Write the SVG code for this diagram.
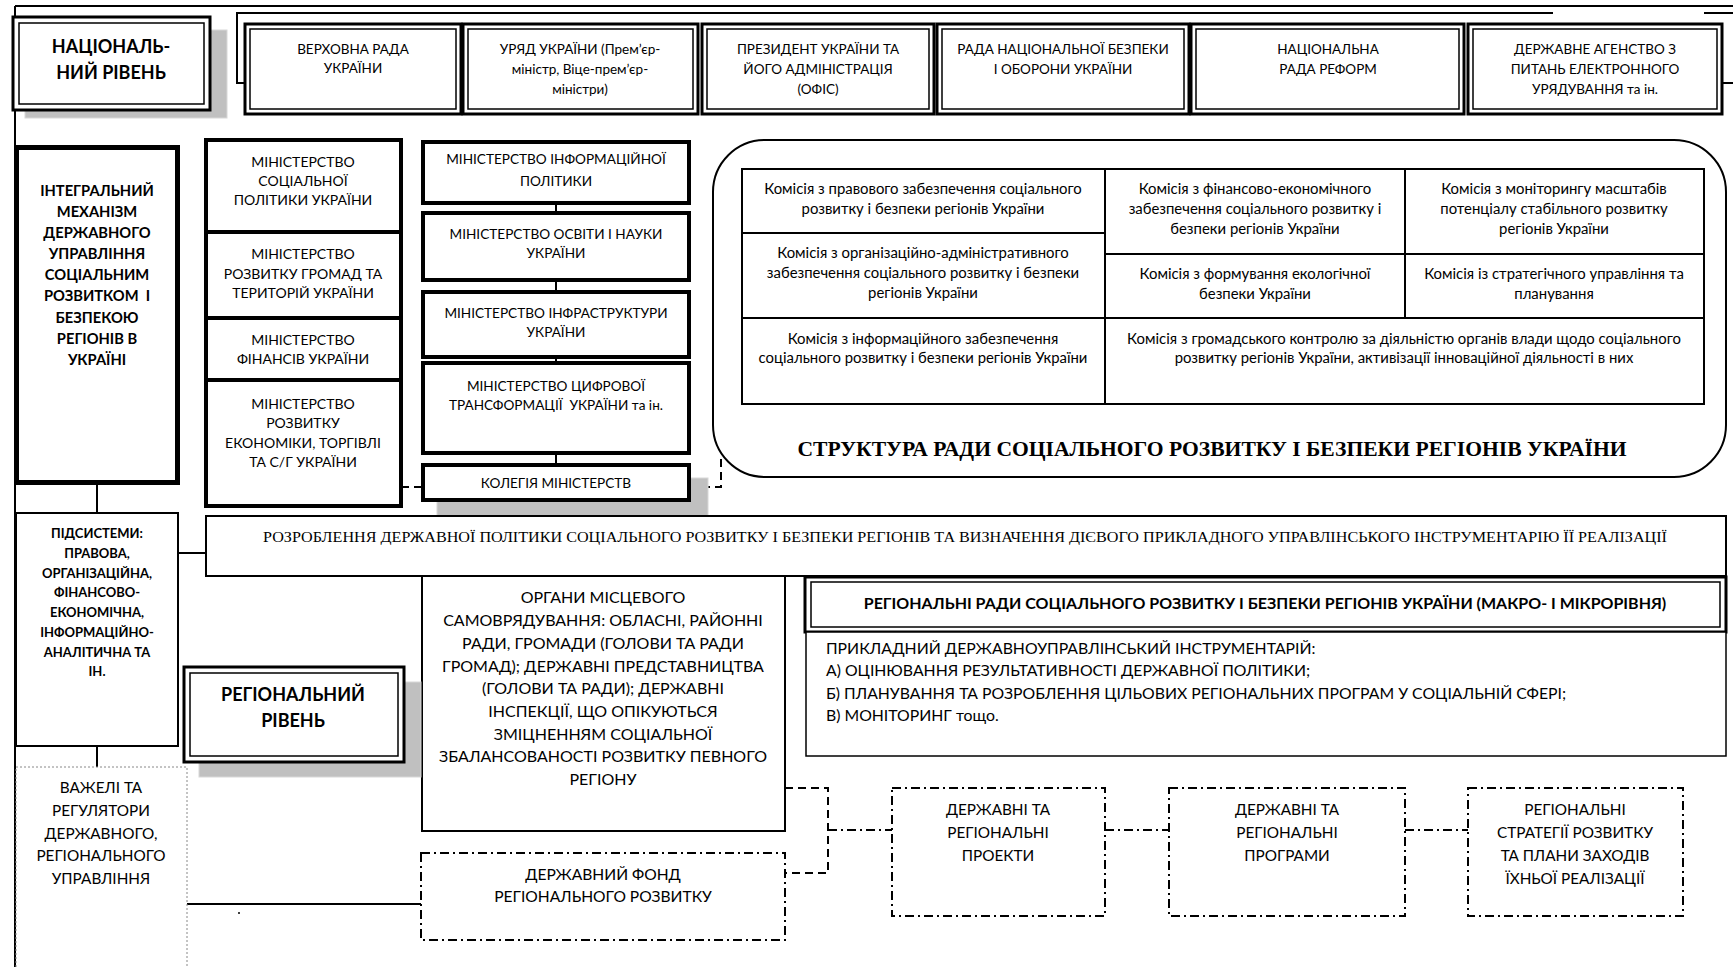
<svg xmlns="http://www.w3.org/2000/svg" width="1733" height="967" viewBox="0 0 1733 967">
<style>
.bx{fill:#fff;stroke:#000;stroke-width:2}
.th{fill:#fff;stroke:#000;stroke-width:4}
.in{fill:none;stroke:#000;stroke-width:1.5}
.sh{fill:#c0c0c0;stroke:#d8d8d8;stroke-width:1}
.dd{fill:#fff;stroke:#000;stroke-width:2;stroke-dasharray:9 4 2 4}
.ln{fill:none;stroke:#000;stroke-width:2}
.ds{fill:none;stroke:#000;stroke-width:2;stroke-dasharray:8 5}
.dl{fill:none;stroke:#000;stroke-width:2;stroke-dasharray:9 4 2 4}
text{font-family:Lato,"Noto Sans",sans-serif;fill:#000;text-anchor:middle}
.f13{font-size:13.5px}
.f14{font-size:14px}
.fm{font-size:13.6px}
.fc{font-size:14.9px}
.f15{font-size:15.3px}
.f16{font-size:16px}
.b{font-weight:bold}
.sr{font-family:"Liberation Serif",serif}
.l{text-anchor:start}
</style>

<g id="connectors">
<path class="ln" d="M15 6 H1733"/>
<path class="ln" d="M15 6 V967"/>
<path class="ln" d="M245 83 H237 V13 H1553"/>
<path class="ln" d="M1704 13 H1733"/>
<path class="ln" d="M1722 83 H1733"/>
<path class="ln" d="M97 485 V513"/>
<path class="ln" d="M178 553 H206"/>
<path class="ln" d="M97 746 V767"/>
<path class="ln" d="M187 904 H421"/>
<path class="ln" d="M556 203 V213 M556 280 V292 M556 357 V363 M556 453 V465"/>
<path class="ds" d="M401 487 H423"/>
<path class="ds" d="M689 487 H721 V454"/>
<path class="ds" d="M785 788 H828 V873 H785"/>
<path class="dl" d="M828 830 H892"/>
<path class="dl" d="M1105 830 H1169"/>
<path class="dl" d="M1405 830 H1468"/>
<circle cx="304" cy="377" r="1"/>
<circle cx="239" cy="913" r="1"/>
</g>

<g id="national-level">
<rect class="sh" x="25" y="30" width="202" height="88"/>
<rect x="13" y="17" width="197" height="93" fill="#fff" stroke="#000" stroke-width="3"/>
<rect class="in" x="19" y="23" width="185" height="81"/>
<text class="b" font-size="18" x="111" y="53">НАЦІОНАЛЬ-</text>
<text class="b" font-size="18" x="111" y="79">НИЙ РІВЕНЬ</text>
</g>

<g id="verkhovna-rada">
<rect x="245" y="24" width="216" height="90" fill="#fff" stroke="#000" stroke-width="3"/>
<rect class="in" x="250" y="29" width="206" height="80"/>
<text class="f13" x="353" y="54">ВЕРХОВНА РАДА</text>
<text class="f13" x="353" y="73">УКРАЇНИ</text>
</g>
<g id="uriad">
<rect x="463" y="24" width="235" height="90" fill="#fff" stroke="#000" stroke-width="3"/>
<rect class="in" x="468" y="29" width="225" height="80"/>
<text class="f13" x="580" y="54">УРЯД УКРАЇНИ (Прем’єр-</text>
<text class="f13" x="580" y="74">міністр, Віце-прем’єр-</text>
<text class="f13" x="580" y="94">міністри)</text>
</g>
<g id="president">
<rect x="702" y="24" width="232" height="90" fill="#fff" stroke="#000" stroke-width="3"/>
<rect class="in" x="707" y="29" width="222" height="80"/>
<text class="f13" x="818" y="54">ПРЕЗИДЕНТ УКРАЇНИ ТА</text>
<text class="f13" x="818" y="74">ЙОГО АДМІНІСТРАЦІЯ</text>
<text class="f13" x="818" y="94">(ОФІС)</text>
</g>
<g id="rnbo">
<rect x="937" y="24" width="252" height="90" fill="#fff" stroke="#000" stroke-width="3"/>
<rect class="in" x="942" y="29" width="242" height="80"/>
<text class="f13" x="1063" y="54">РАДА НАЦІОНАЛЬНОЇ БЕЗПЕКИ</text>
<text class="f13" x="1063" y="74">І ОБОРОНИ УКРАЇНИ</text>
</g>
<g id="rada-reform">
<rect x="1191" y="24" width="273" height="90" fill="#fff" stroke="#000" stroke-width="3"/>
<rect class="in" x="1196" y="29" width="263" height="80"/>
<text class="f13" x="1328" y="54">НАЦІОНАЛЬНА</text>
<text class="f13" x="1328" y="74">РАДА РЕФОРМ</text>
</g>
<g id="e-gov">
<rect x="1468" y="24" width="254" height="90" fill="#fff" stroke="#000" stroke-width="3"/>
<rect class="in" x="1473" y="29" width="244" height="80"/>
<text class="f13" x="1595" y="54">ДЕРЖАВНЕ АГЕНСТВО З</text>
<text class="f13" x="1595" y="74">ПИТАНЬ ЕЛЕКТРОННОГО</text>
<text class="f13" x="1595" y="94">УРЯДУВАННЯ та ін.</text>
</g>

<g id="integral">
<rect x="16.5" y="147.5" width="161" height="335" fill="#fff" stroke="#000" stroke-width="5"/>
<text class="b" font-size="14.7" x="97" y="196">ІНТЕГРАЛЬНИЙ</text>
<text class="b" font-size="14.7" x="97" y="217">МЕХАНІЗМ</text>
<text class="b" font-size="14.7" x="97" y="238">ДЕРЖАВНОГО</text>
<text class="b" font-size="14.7" x="97" y="259">УПРАВЛІННЯ</text>
<text class="b" font-size="14.7" x="97" y="280">СОЦІАЛЬНИМ</text>
<text class="b" font-size="14.7" x="97" y="301" xml:space="preserve">РОЗВИТКОМ  І</text>
<text class="b" font-size="14.7" x="97" y="323">БЕЗПЕКОЮ</text>
<text class="b" font-size="14.7" x="97" y="344">РЕГІОНІВ В</text>
<text class="b" font-size="14.7" x="97" y="365">УКРАЇНІ</text>
</g>

<g id="subsystems">
<rect class="bx" x="16" y="513" width="162" height="233"/>
<text class="b" font-size="13" x="97" y="538">ПІДСИСТЕМИ:</text>
<text class="b" font-size="13" x="97" y="558">ПРАВОВА,</text>
<text class="b" font-size="13" x="97" y="578">ОРГАНІЗАЦІЙНА,</text>
<text class="b" font-size="13" x="97" y="597">ФІНАНСОВО-</text>
<text class="b" font-size="13" x="97" y="617">ЕКОНОМІЧНА,</text>
<text class="b" font-size="13" x="97" y="637">ІНФОРМАЦІЙНО-</text>
<text class="b" font-size="13" x="97" y="657">АНАЛІТИЧНА ТА</text>
<text class="b" font-size="13" x="97" y="676">ІН.</text>
</g>

<g id="levers">
<rect x="16" y="767" width="171" height="215" fill="#fff" stroke="#888" stroke-width="1" stroke-dasharray="2 2"/>
<text class="f15" x="101" y="793">ВАЖЕЛІ ТА</text>
<text class="f15" x="101" y="816">РЕГУЛЯТОРИ</text>
<text class="f15" x="101" y="839">ДЕРЖАВНОГО,</text>
<text class="f15" x="101" y="861">РЕГІОНАЛЬНОГО</text>
<text class="f15" x="101" y="884">УПРАВЛІННЯ</text>
</g>

<g id="min-social">
<rect class="th" x="206" y="140" width="195" height="92"/>
<text class="f14" x="303" y="167">МІНІСТЕРСТВО</text>
<text class="f14" x="303" y="186">СОЦІАЛЬНОЇ</text>
<text class="f14" x="303" y="205">ПОЛІТИКИ УКРАЇНИ</text>
</g>
<g id="min-communities">
<rect class="th" x="206" y="232" width="195" height="86"/>
<text class="f14" x="303" y="259">МІНІСТЕРСТВО</text>
<text class="f14" x="303" y="279">РОЗВИТКУ ГРОМАД ТА</text>
<text class="f14" x="303" y="298">ТЕРИТОРІЙ УКРАЇНИ</text>
</g>
<g id="min-finance">
<rect class="th" x="206" y="318" width="195" height="62"/>
<text class="f14" x="303" y="345">МІНІСТЕРСТВО</text>
<text class="f14" x="303" y="364">ФІНАНСІВ УКРАЇНИ</text>
</g>
<g id="min-economy">
<rect class="th" x="206" y="380" width="195" height="126"/>
<text class="f14" x="303" y="409">МІНІСТЕРСТВО</text>
<text class="f14" x="303" y="428">РОЗВИТКУ</text>
<text class="f14" x="303" y="448">ЕКОНОМІКИ, ТОРГІВЛІ</text>
<text class="f14" x="303" y="467">ТА С/Г УКРАЇНИ</text>
</g>

<g id="min-info">
<rect class="th" x="423" y="142" width="266" height="61"/>
<text class="fm" x="556" y="164">МІНІСТЕРСТВО ІНФОРМАЦІЙНОЇ</text>
<text class="fm" x="556" y="186">ПОЛІТИКИ</text>
</g>
<g id="min-education">
<rect class="th" x="423" y="213" width="266" height="67"/>
<text class="fm" x="556" y="239">МІНІСТЕРСТВО ОСВІТИ І НАУКИ</text>
<text class="fm" x="556" y="258">УКРАЇНИ</text>
</g>
<g id="min-infra">
<rect class="th" x="423" y="292" width="266" height="65"/>
<text class="fm" x="556" y="318">МІНІСТЕРСТВО ІНФРАСТРУКТУРИ</text>
<text class="fm" x="556" y="337">УКРАЇНИ</text>
</g>
<g id="min-digital">
<rect class="th" x="423" y="363" width="266" height="90"/>
<text class="fm" x="556" y="391">МІНІСТЕРСТВО ЦИФРОВОЇ</text>
<text class="fm" x="556" y="410" xml:space="preserve">ТРАНСФОРМАЦІЇ  УКРАЇНИ та ін.</text>
</g>
<g id="collegium">
<rect class="sh" x="437" y="478" width="271" height="40"/>
<rect class="th" x="423" y="465" width="266" height="35"/>
<text class="fm" x="556" y="488">КОЛЕГІЯ МІНІСТЕРСТВ</text>
</g>

<g id="council-structure">
<rect x="713" y="140" width="1013" height="337" rx="52" ry="52" fill="#fff" stroke="#000" stroke-width="2"/>
<rect class="bx" x="742" y="169" width="962" height="235"/>
<path class="ln" d="M1105 169 V404 M1405 169 V318 M742 233 H1105 M742 318 H1704 M1105 254 H1704"/>
<text class="fc" x="923" y="194">Комісія з правового забезпечення соціального</text>
<text class="fc" x="923" y="214">розвитку і безпеки регіонів України</text>
<text class="fc" x="923" y="258">Комісія з організаційно-адміністративного</text>
<text class="fc" x="923" y="278">забезпечення соціального розвитку і безпеки</text>
<text class="fc" x="923" y="298">регіонів України</text>
<text class="fc" x="923" y="344">Комісія з інформаційного забезпечення</text>
<text class="fc" x="923" y="363">соціального розвитку і безпеки регіонів України</text>
<text class="fc" x="1255" y="194">Комісія з фінансово-економічного</text>
<text class="fc" x="1255" y="214">забезпечення соціального розвитку і</text>
<text class="fc" x="1255" y="234">безпеки регіонів України</text>
<text class="fc" x="1255" y="279">Комісія з формування екологічної</text>
<text class="fc" x="1255" y="299">безпеки України</text>
<text class="fc" x="1554" y="194">Комісія з моніторингу масштабів</text>
<text class="fc" x="1554" y="214">потенціалу стабільного розвитку</text>
<text class="fc" x="1554" y="234">регіонів України</text>
<text class="fc" x="1554" y="279">Комісія із стратегічного управління та</text>
<text class="fc" x="1554" y="299">планування</text>
<text class="fc" x="1404" y="344">Комісія з громадського контролю за діяльністю органів влади щодо соціального</text>
<text class="fc" x="1404" y="363">розвитку регіонів України, активізації інноваційної діяльності в них</text>
<text class="sr b" font-size="21.6" x="1212" y="456">СТРУКТУРА РАДИ СОЦІАЛЬНОГО РОЗВИТКУ І БЕЗПЕКИ РЕГІОНІВ УКРАЇНИ</text>
</g>

<g id="policy-development">
<rect class="bx" x="206" y="516" width="1520" height="60"/>
<text class="sr" font-size="15.5" x="965" y="542" textLength="1404" lengthAdjust="spacingAndGlyphs">РОЗРОБЛЕННЯ ДЕРЖАВНОЇ ПОЛІТИКИ СОЦІАЛЬНОГО РОЗВИТКУ І БЕЗПЕКИ РЕГІОНІВ ТА ВИЗНАЧЕННЯ ДІЄВОГО ПРИКЛАДНОГО УПРАВЛІНСЬКОГО ІНСТРУМЕНТАРІЮ ЇЇ РЕАЛІЗАЦІЇ</text>
</g>

<g id="local-government">
<rect class="bx" x="422" y="576" width="363" height="255"/>
<text class="f16" x="603" y="603">ОРГАНИ МІСЦЕВОГО</text>
<text class="f16" x="603" y="626">САМОВРЯДУВАННЯ: ОБЛАСНІ, РАЙОННІ</text>
<text class="f16" x="603" y="649">РАДИ, ГРОМАДИ (ГОЛОВИ ТА РАДИ</text>
<text class="f16" x="603" y="672">ГРОМАД); ДЕРЖАВНІ ПРЕДСТАВНИЦТВА</text>
<text class="f16" x="603" y="694">(ГОЛОВИ ТА РАДИ); ДЕРЖАВНІ</text>
<text class="f16" x="603" y="717">ІНСПЕКЦІЇ, ЩО ОПІКУЮТЬСЯ</text>
<text class="f16" x="603" y="740">ЗМІЦНЕННЯМ СОЦІАЛЬНОЇ</text>
<text class="f16" x="603" y="762">ЗБАЛАНСОВАНОСТІ РОЗВИТКУ ПЕВНОГО</text>
<text class="f16" x="603" y="785">РЕГІОНУ</text>
</g>

<g id="regional-fund">
<rect class="dd" x="421" y="853" width="364" height="87"/>
<text font-size="15.6" x="603" y="880">ДЕРЖАВНИЙ ФОНД</text>
<text font-size="15.6" x="603" y="902">РЕГІОНАЛЬНОГО РОЗВИТКУ</text>
</g>

<g id="regional-level">
<rect class="sh" x="199" y="682" width="222" height="95"/>
<rect x="184" y="667" width="220" height="95" fill="#fff" stroke="#000" stroke-width="3"/>
<rect class="in" x="190" y="673" width="208" height="83"/>
<text class="b" font-size="18" x="293" y="701">РЕГІОНАЛЬНИЙ</text>
<text class="b" font-size="18" x="293" y="727">РІВЕНЬ</text>
</g>

<g id="regional-councils">
<rect x="805" y="577" width="921" height="55" fill="#fff" stroke="#000" stroke-width="3"/>
<rect class="in" x="811" y="582" width="909" height="45"/>
<text class="b" font-size="16" x="1265" y="609">РЕГІОНАЛЬНІ РАДИ СОЦІАЛЬНОГО РОЗВИТКУ І БЕЗПЕКИ РЕГІОНІВ УКРАЇНИ (МАКРО- І МІКРОРІВНЯ)</text>
</g>

<g id="applied-tools">
<rect x="806" y="632" width="920" height="124" fill="#fff" stroke="#000" stroke-width="1.5"/>
<text class="l" font-size="15.8" x="826" y="654">ПРИКЛАДНИЙ ДЕРЖАВНОУПРАВЛІНСЬКИЙ ІНСТРУМЕНТАРІЙ:</text>
<text class="l" font-size="15.8" x="826" y="676">А) ОЦІНЮВАННЯ РЕЗУЛЬТАТИВНОСТІ ДЕРЖАВНОЇ ПОЛІТИКИ;</text>
<text class="l" font-size="15.8" x="826" y="699">Б) ПЛАНУВАННЯ ТА РОЗРОБЛЕННЯ ЦІЛЬОВИХ РЕГІОНАЛЬНИХ ПРОГРАМ У СОЦІАЛЬНІЙ СФЕРІ;</text>
<text class="l" font-size="15.8" x="826" y="721">В) МОНІТОРИНГ тощо.</text>
</g>

<g id="projects">
<rect class="dd" x="892" y="788" width="213" height="128"/>
<text class="f15" x="998" y="815">ДЕРЖАВНІ ТА</text>
<text class="f15" x="998" y="838">РЕГІОНАЛЬНІ</text>
<text class="f15" x="998" y="861">ПРОЕКТИ</text>
</g>
<g id="programs">
<rect class="dd" x="1169" y="788" width="236" height="128"/>
<text class="f15" x="1287" y="815">ДЕРЖАВНІ ТА</text>
<text class="f15" x="1287" y="838">РЕГІОНАЛЬНІ</text>
<text class="f15" x="1287" y="861">ПРОГРАМИ</text>
</g>
<g id="strategies">
<rect class="dd" x="1468" y="788" width="215" height="128"/>
<text class="f15" x="1575" y="815">РЕГІОНАЛЬНІ</text>
<text class="f15" x="1575" y="838">СТРАТЕГІЇ РОЗВИТКУ</text>
<text class="f15" x="1575" y="861">ТА ПЛАНИ ЗАХОДІВ</text>
<text class="f15" x="1575" y="884">ЇХНЬОЇ РЕАЛІЗАЦІЇ</text>
</g>
</svg>
